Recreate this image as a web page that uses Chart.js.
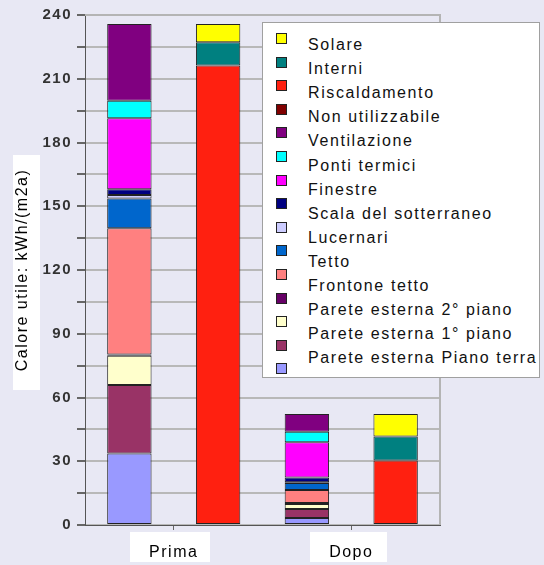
<!DOCTYPE html>
<html>
<head>
<meta charset="utf-8">
<script src="https://cdn.jsdelivr.net/npm/chart.js@4/dist/chart.umd.min.js"></script>
<style>
    html, body { margin: 0; padding: 0; }
    body {
        width: 544px; height: 565px; overflow: hidden; position: relative;
        background: #e8e8f4;
        font-family: "Liberation Sans", Arial, sans-serif;
    }
    .box { position: absolute; background: #fff; }
    #chartWrap { position: absolute; left: 0; top: 0; width: 544px; height: 565px; }
    #legend {
        position: absolute; left: 262px; top: 22px; width: 278px; height: 356px;
        background: #fff; border: 1px solid #a0a0a0; box-sizing: border-box;
    }
    #legend .sw {
        position: absolute; left: 13px; width: 9px; height: 9px;
        border: 1px solid #222;
    }
    #legend .lb {
        position: absolute; left: 45px; font-size: 16px; line-height: 18px;
        letter-spacing: 1.6px; color: #111; white-space: nowrap;
    }
</style>
</head>
<body>
<div class="box" style="left:13px; top:155px; width:27px; height:235px;"></div>
<div class="box" style="left:130px; top:532px; width:80px; height:30px;"></div>
<div class="box" style="left:310px; top:532px; width:77px; height:30px;"></div>
<div id="chartWrap"><canvas id="chart" width="544" height="565"></canvas></div>
<div id="legend"></div>
<script>
// categorie
const categories = ['Prima', 'Dopo'];

// perdite (colonna di sinistra), dal basso verso l'alto
const lossNames = ['', 'Parete esterna Piano terra', 'Parete esterna 1° piano', 'Parete esterna 2° piano',
    'Frontone tetto', 'Tetto', 'Lucernari', 'Scala del sotterraneo', 'Finestre', 'Ponti termici', 'Ventilazione'];
const lossPrima = [33.7, 32.2, 13.8, 0.5, 59.4, 14.0, 1.7, 2.7, 33.4, 8.3, 36.1];
const lossDopo = [3.3, 4.2, 2.4, 0.5, 6.1, 3.3, 0.3, 2.2, 16.6, 5.0, 8.3];
const lossColors = ['#9999ff', '#993366', '#ffffcc', '#660066', '#ff8080', '#0066cc', '#ccccff',
    '#000080', '#ff00ff', '#00ffff', '#800080'];

// apporti (colonna di destra), dal basso verso l'alto
const gainNames = ['Non utilizzabile', 'Riscaldamento', 'Interni', 'Solare'];
const gainPrima = [0, 216.2, 11.0, 8.6];
const gainDopo = [0, 30.3, 11.3, 10.6];
const gainColors = ['#800000', '#ff2010', '#008080', '#ffff00'];

// asse y
const yMax = 240;
const yStep = 15;
const yLabelStep = 30;

const datasets = [];
lossNames.forEach((name, i) => {
    datasets.push({ label: name, stack: 'perdite', data: [lossPrima[i], lossDopo[i]], backgroundColor: lossColors[i] });
});
gainNames.forEach((name, i) => {
    datasets.push({ label: name, stack: 'apporti', data: [gainPrima[i], gainDopo[i]], backgroundColor: gainColors[i] });
});

// cornice dell'area del grafico
const plotFrame = {
    id: 'plotFrame',
    beforeDraw(chart) {
        chart.ctx.letterSpacing = '1.5px';
    },
    afterDraw(chart) {
        const { ctx, chartArea: a } = chart;
        ctx.save();
        ctx.strokeStyle = '#b4b4b4';
        ctx.lineWidth = 2;
        ctx.beginPath();
        ctx.moveTo(a.left, a.top);
        ctx.lineTo(a.right, a.top);
        ctx.lineTo(a.right, a.bottom);
        ctx.stroke();
        ctx.restore();
    }
};

const family = '"Liberation Sans", Arial, sans-serif';

new Chart(document.getElementById('chart'), {
    type: 'bar',
    data: { labels: categories, datasets },
    plugins: [plotFrame],
    options: {
        responsive: false,
        animation: false,
        layout: { padding: { left: 0, right: 104, top: 15, bottom: 0 } },
        plugins: { legend: { display: false }, tooltip: { enabled: false } },
        datasets: {
            bar: {
                categoryPercentage: 1,
                barPercentage: 0.5,
                borderColor: '#222',
                borderWidth: (c) => (c.raw ? 1 : 0),
                borderSkipped: false
            }
        },
        scales: {
            x: {
                stacked: true,
                grid: { drawOnChartArea: false, offset: false, tickLength: 5, tickColor: '#666' },
                border: { color: '#555', width: 1 },
                ticks: { font: { family, size: 16 }, color: '#000', padding: 13 },
                afterFit: (s) => { s.height = 40; }
            },
            y: {
                stacked: true,
                min: 0,
                max: yMax,
                ticks: {
                    stepSize: yStep,
                    callback: (v) => (v % yLabelStep === 0 ? String(v) : ' '),
                    font: { family, size: 15, weight: 'bold' },
                    color: '#333',
                    padding: 5
                },
                grid: { drawOnChartArea: true, color: '#b8b8b8', lineWidth: 2, tickLength: 8, tickColor: '#666' },
                border: { color: '#555', width: 1 },
                title: {
                    display: true,
                    text: 'Calore utile: kWh/(m2a)',
                    font: { family, size: 16 },
                    color: '#000',
                    padding: { top: 13, bottom: 0 }
                },
                afterFit: (s) => { s.width = 85; }
            }
        }
    }
});

// legenda: 15 quadratini, 14 etichette (come nell'originale)
const legend = document.getElementById('legend');
const swatchColors = gainColors.slice().reverse().concat(lossColors.slice().reverse());
const labelNames = gainNames.slice().reverse().concat(lossNames.slice().reverse()).filter((n) => n);
swatchColors.forEach((c, j) => {
    const sw = document.createElement('div');
    sw.className = 'sw';
    sw.style.top = (10 + j * 23.6) + 'px';
    sw.style.background = c;
    legend.appendChild(sw);
});
labelNames.forEach((n, i) => {
    const lb = document.createElement('div');
    lb.className = 'lb';
    lb.style.top = (13 + i * 24.1) + 'px';
    lb.textContent = n;
    legend.appendChild(lb);
});
</script>
</body>
</html>
